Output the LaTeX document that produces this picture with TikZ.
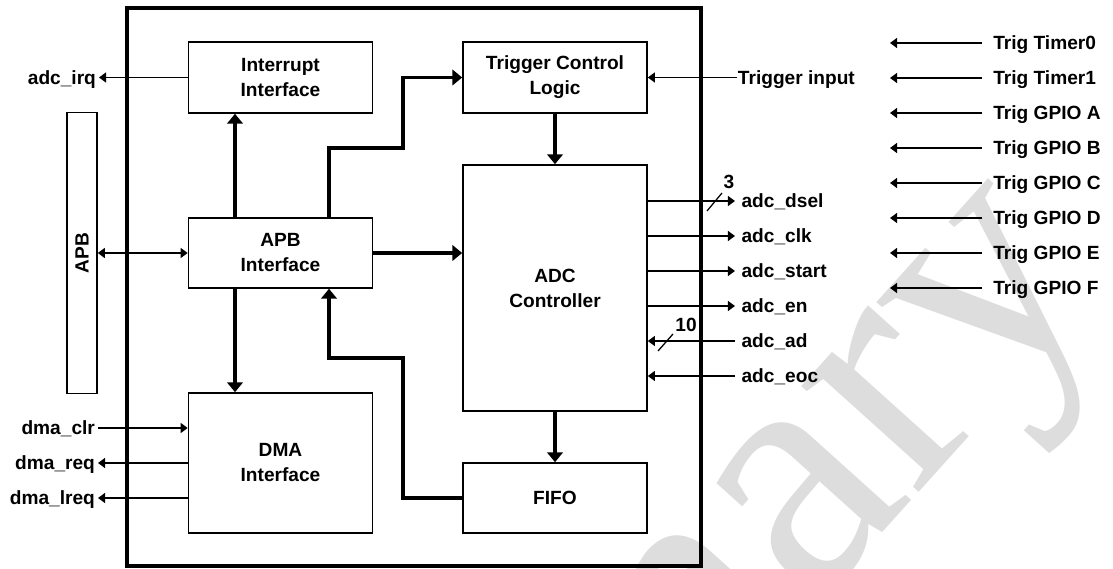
\documentclass[tikz,border=0pt]{standalone}
\usepackage{fontspec}
\setmainfont{Liberation Sans}
\newfontfamily\wmfont{Liberation Serif}
\usetikzlibrary{arrows.meta}
\definecolor{wmgray}{RGB}{221,221,221}

\begin{document}
\begin{tikzpicture}[x=0.025cm, y=-0.025cm,
    every node/.style={font=\bfseries\fontsize{13.6}{17.8}\selectfont},
    blk/.style={draw, line width=1.1pt, minimum width=4.6cm, align=center, inner sep=0pt},
    lbl/.style={inner ysep=0pt, inner xsep=2pt, text height=9.7pt, text depth=0pt},
    sig/.style={line width=1.2pt, -{Triangle[length=5pt,width=7pt]}},
    sigboth/.style={line width=1.2pt, {Triangle[length=5pt,width=7pt]}-{Triangle[length=5pt,width=7pt]}},
    bus/.style={line width=2.6pt, -{Triangle[length=7pt,width=11pt]}}]

        \useasboundingbox (0,0) rectangle (1113,569);

        \begin{scope}
            \clip (0,0) rectangle (1113,569);
            \node[anchor=base west, rotate=48, inner sep=0pt, text=wmgray,
                font=\wmfont\fontsize{245}{245}\selectfont] (wm) at (18,1493) {Preliminary};
        \end{scope}

        \draw[line width=2.6pt] (127,8) rectangle (701,566);

        \node[blk, minimum height=1.775cm] (intr) at (280.5,77.5) {Interrupt\\Interface};
        \node[blk, minimum height=1.775cm] (tcl) at (555,77.5) {Trigger Control\\Logic};
        \node[blk, minimum height=1.75cm] (apbif) at (280.5,253) {APB\\Interface};
        \node[blk, minimum height=6.15cm] (adc) at (555,288) {ADC\\Controller};
        \node[blk, minimum height=3.5cm] (dma) at (280.5,463) {DMA\\Interface};
        \node[blk, minimum height=1.75cm] (fifo) at (555,498) {FIFO};
        \node[blk, rotate=90, minimum width=7.025cm, minimum height=0.75cm] (apb) at (82,253) {APB};

        \node[lbl, anchor=east] (irq) at (99,77.5) {adc\_irq};
        \node[lbl, anchor=west, inner xsep=0.5pt] (trig) at (737,77.5) {Trigger input};

        \node[lbl, anchor=east] (clr) at (98,428) {dma\_clr};
        \node[lbl, anchor=east] (req) at (98,463) {dma\_req};
        \node[lbl, anchor=east] (lreq) at (98,498) {dma\_lreq};

        \node[lbl, anchor=west, inner xsep=4.5pt] (dsel) at (735,201) {adc\_dsel};
        \node[lbl, anchor=west, inner xsep=4.5pt] (clk) at (735,236) {adc\_clk};
        \node[lbl, anchor=west, inner xsep=4.5pt] (start) at (735,271) {adc\_start};
        \node[lbl, anchor=west, inner xsep=4.5pt] (en) at (735,306) {adc\_en};
        \node[lbl, anchor=west, inner xsep=4.5pt] (ad) at (735,341) {adc\_ad};
        \node[lbl, anchor=west, inner xsep=4.5pt] (eoc) at (735,376) {adc\_eoc};

        \draw[sig] (intr) -- (irq);
        \draw[sig] (trig) -- (tcl);
        \draw[sigboth] (apb) -- (apbif);

        \coordinate (ca) at (235,0);
        \coordinate (cb) at (329,148);
        \coordinate (cc) at (403,148);
        \coordinate (cd) at (403,358);

        \draw[bus] (apbif.north -| ca) -- (intr.south -| ca);
        \draw[bus] (apbif.south -| ca) -- (dma.north -| ca);
        \draw[bus] (apbif.north -| cb) -- (cb) -- (cc) |- (tcl.west);
        \draw[bus] (fifo.west) -| (cd) -- (cd -| cb) -- (apbif.south -| cb);
        \draw[bus] (apbif.east) -- (apbif.east -| adc.west);
        \draw[bus] (tcl) -- (adc);
        \draw[bus] (adc) -- (fifo);

        \draw[sig] (adc.east |- dsel) -- (dsel);
        \draw[sig] (adc.east |- clk) -- (clk);
        \draw[sig] (adc.east |- start) -- (start);
        \draw[sig] (adc.east |- en) -- (en);
        \draw[sig] (ad) -- (adc.east |- ad);
        \draw[sig] (eoc) -- (adc.east |- eoc);

        \draw[line width=0.9pt] (707,211) -- (722,193);
        \node (w3) at (729,182) {3};
        \draw[line width=0.9pt] (658,351) -- (673,334);
        \node (w10) at (686,325) {10};

        \draw[sig] (clr) -- (clr -| dma.west);
        \draw[sig] (dma.west |- req) -- (req);
        \draw[sig] (dma.west |- lreq) -- (lreq);

        \coordinate (tl) at (890,0);
        \node[lbl, anchor=west, inner xsep=7.8pt] (tt0) at (982,43) {Trig Timer0};
        \node[lbl, anchor=west, inner xsep=7.8pt] (tt1) at (982,78) {Trig Timer1};
        \node[lbl, anchor=west, inner xsep=7.8pt] (tga) at (982,113) {Trig GPIO A};
        \node[lbl, anchor=west, inner xsep=7.8pt] (tgb) at (982,148) {Trig GPIO B};
        \node[lbl, anchor=west, inner xsep=7.8pt] (tgc) at (982,183) {Trig GPIO C};
        \node[lbl, anchor=west, inner xsep=7.8pt] (tgd) at (982,218) {Trig GPIO D};
        \node[lbl, anchor=west, inner xsep=7.8pt] (tge) at (982,253) {Trig GPIO E};
        \node[lbl, anchor=west, inner xsep=7.8pt] (tgf) at (982,288) {Trig GPIO F};

        \draw[sig] (tt0) -- (tt0 -| tl);
        \draw[sig] (tt1) -- (tt1 -| tl);
        \draw[sig] (tga) -- (tga -| tl);
        \draw[sig] (tgb) -- (tgb -| tl);
        \draw[sig] (tgc) -- (tgc -| tl);
        \draw[sig] (tgd) -- (tgd -| tl);
        \draw[sig] (tge) -- (tge -| tl);
        \draw[sig] (tgf) -- (tgf -| tl);

    \end{tikzpicture}
\end{document}
